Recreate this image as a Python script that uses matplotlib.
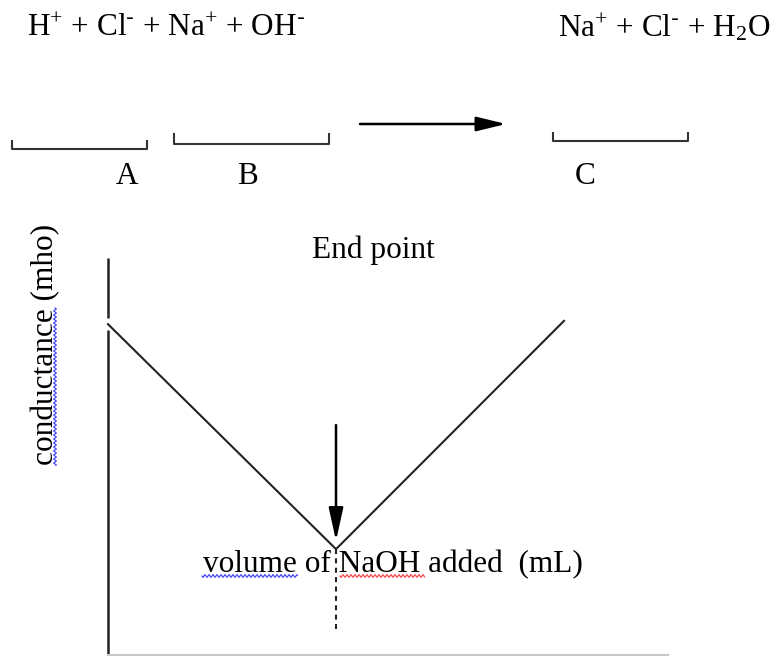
import matplotlib
matplotlib.use('Agg')
import matplotlib.pyplot as plt
import numpy as np

plt.rcParams['font.family'] = ['Liberation Serif', 'DejaVu Serif']
plt.rcParams['mathtext.default'] = 'regular'

# conductometric titration of HCl with NaOH
volume = [0, 10, 20]              # mL NaOH added
conductance = [10.0, 3.2, 10.1]   # mho (arbitrary scale)
end_volume = 10
arrow_top = 6.95
dash_bottom = 0.76

reactants = r'H$^{+}$ + Cl$^{\text{-}}$ + Na$^{+}$ + OH$^{\text{-}}$'
products = r'Na$^{+}$ + Cl$^{\text{-}}$ + H$_2$O'
bracket_labels = ['A', 'B', 'C']

W, H = 772, 656
fig = plt.figure(figsize=(W / 100, H / 100), dpi=100)

# decoration layer in pixel coordinates
deco = fig.add_axes([0, 0, 1, 1])
deco.set_xlim(0, W)
deco.set_ylim(H, 0)
deco.axis('off')

# main plot
ax = fig.add_axes([108 / W, 1 / H, 560 / W, 397 / H])
ax.patch.set_visible(False)
ax.set_xlim(0, 24.56)
ax.set_ylim(0, 12)
for side in ['top', 'right', 'left']:
    ax.spines[side].set_visible(False)
ax.spines['bottom'].set_color('#c8c8c8')
ax.spines['bottom'].set_linewidth(1.5)
ax.set_xticks([])
ax.set_yticks([])

# y axis with a small break
ax.vlines(0, 0, 9.82, color='#222222', lw=1.8, clip_on=False)
ax.vlines(0, 10.19, 12, color='#222222', lw=1.8, clip_on=False)

ax.plot(volume, conductance, color='#222222', lw=1.5, clip_on=False)
ax.plot([end_volume, end_volume], [min(conductance), dash_bottom],
        color='#222222', lw=1.5, dashes=(2.4, 2.1))
ax.annotate('', xy=(end_volume, 3.45), xytext=(end_volume, arrow_top),
            arrowprops=dict(arrowstyle='-|>,head_length=1.0,head_width=0.22',
                            color='black', lw=1.8, mutation_scale=20,
                            shrinkA=0, shrinkB=0))

fs = 22.5
fig.text(27 / W, 1 - 28 / H, reactants, fontsize=fs, ha='left', va='center')
fig.text(770 / W, 1 - 28 / H, products, fontsize=fs, ha='right', va='center')

# brackets under the ions
for x0, x1, yb, yt in [(12, 147, 149, 141), (174, 329, 144, 134), (553, 688, 141, 133)]:
    deco.plot([x0, x0, x1, x1], [yt, yb, yb, yt], color='#333333', lw=1.5)
deco.annotate('', xy=(506, 124), xytext=(360, 124),
              arrowprops=dict(arrowstyle='-|>,head_length=0.9,head_width=0.22',
                              color='black', lw=1.8, mutation_scale=20,
                              shrinkA=0, shrinkB=0))
for lab, xc in zip(bracket_labels, [127, 248, 585]):
    fig.text(xc / W, 1 - 177 / H, lab, fontsize=fs, ha='center', va='center')

fig.text(373 / W, 1 - 250 / H, 'End point', fontsize=fs, ha='center', va='center')
fig.text(393 / W, 1 - 565 / H, 'volume of NaOH added  (mL)', fontsize=fs,
         ha='center', va='center')
fig.text(46 / W, 1 - 344 / H, 'conductance (mho)', fontsize=fs, rotation=90,
         ha='center', va='center')

# spell-check squiggles under some words
def squiggle(x0, x1, y, color, vertical=False):
    t = np.arange(0, x1 - x0, 0.5)
    w = 1.3 * np.sin(t * 2 * np.pi / 4)
    if vertical:
        deco.plot(y + w, x0 + t, color=color, lw=0.8)
    else:
        deco.plot(x0 + t, y + w, color=color, lw=0.8)

squiggle(202, 298, 576, '#3a3aff')
squiggle(340, 425, 576, '#ff3a3a')
squiggle(308, 466, 55, '#3a3aff', vertical=True)

fig.savefig('out.png', dpi=100)
